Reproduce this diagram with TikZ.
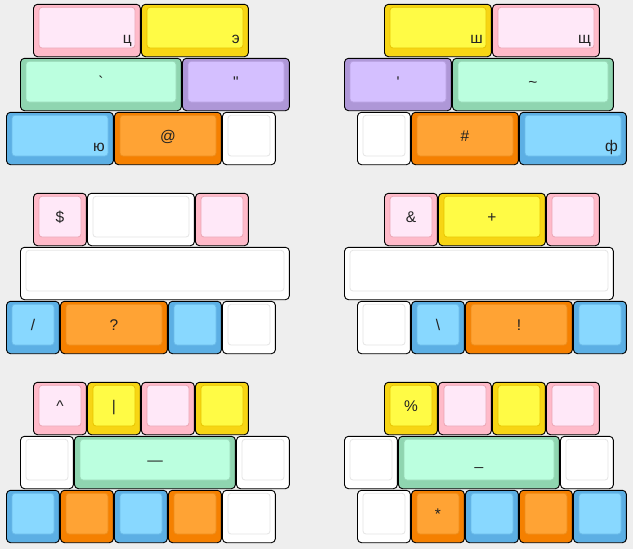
\documentclass[tikz,border=0pt]{standalone}
\usepackage{fontspec}
\newfontfamily\keyfont{Liberation Sans}
\usetikzlibrary{positioning}

% one key: name, x, y, width in units, colour, centre label, corner label
\newcommand{\keycap}[7]{%
  \draw[keyouter,fill=#5out] (#2+0.5,#3+0.3) rectangle ({#2+#4*54-0.6},#3+52.7);
  \draw[keyinner,fill=#5in,draw=#5ln] (#2+6,#3+3.3) rectangle ({#2+#4*54-6},#3+44);
  \node[keylabel] (#1) at ({#2+#4*27},#3+29.5) {#6};
  \node[keycorner] (#1c) at ({#2+#4*54-9},#3+39.5) {#7};
}

\begin{document}
\begin{tikzpicture}[x=1pt, y=-1pt,
    keyouter/.style={draw=black, line width=0.9pt, rounded corners=4pt},
    keyinner/.style={line width=0.8pt, rounded corners=3pt},
    keylabel/.style={anchor=base, inner sep=0pt, text=keytext, font=\keyfont\fontsize{15.5}{18}\selectfont},
    keycorner/.style={anchor=base east, inner sep=0pt, text=keytext, font=\keyfont\fontsize{15.5}{18}\selectfont}]
  \definecolor{bg}{HTML}{EEEEEE}
  \definecolor{keytext}{HTML}{222222}
  \definecolor{pinkout}{HTML}{FFBAC9}   \definecolor{pinkin}{HTML}{FFE8F8}   \definecolor{pinkln}{HTML}{EBA6B5}
  \definecolor{yellowout}{HTML}{F7D514} \definecolor{yellowin}{HTML}{FFFB45} \definecolor{yellowln}{HTML}{E8C400}
  \definecolor{greenout}{HTML}{8FD5B0}  \definecolor{greenin}{HTML}{BBFFDF}  \definecolor{greenln}{HTML}{9AD8B8}
  \definecolor{purpleout}{HTML}{AE97D7} \definecolor{purplein}{HTML}{D4BFFF} \definecolor{purpleln}{HTML}{B8A0E0}
  \definecolor{blueout}{HTML}{5CAFE4}   \definecolor{bluein}{HTML}{88D8FF}   \definecolor{blueln}{HTML}{6CBCEA}
  \definecolor{orangeout}{HTML}{F58000} \definecolor{orangein}{HTML}{FFA334} \definecolor{orangeln}{HTML}{EE8E1C}
  \definecolor{whiteout}{HTML}{FFFFFF}  \definecolor{whitein}{HTML}{FFFFFF}  \definecolor{whiteln}{HTML}{E5E5E5}
  \fill[bg] (0,0) rectangle (633,549);

  % top pair
  \keycap{tse}{33}{4}{2}{pink}{}{ц}
  \keycap{e}{141}{4}{2}{yellow}{}{э}
  \keycap{grave}{20}{58}{3}{green}{\char"60}{}
  \keycap{dquote}{182}{58}{2}{purple}{\char"22}{}
  \keycap{yu}{6}{112}{2}{blue}{}{ю}
  \keycap{at}{114}{112}{2}{orange}{@}{}
  \keycap{blankA}{222}{112}{1}{white}{}{}

  \keycap{sha}{384}{4}{2}{yellow}{}{ш}
  \keycap{shcha}{492}{4}{2}{pink}{}{щ}
  \keycap{squote}{344}{58}{2}{purple}{\char"27}{}
  \keycap{tilde}{452}{58}{3}{green}{\char"7E}{}
  \keycap{blankB}{357}{112}{1}{white}{}{}
  \keycap{hash}{411}{112}{2}{orange}{\#}{}
  \keycap{ef}{519}{112}{2}{blue}{}{ф}

  % middle pair
  \keycap{dollar}{33}{193}{1}{pink}{\$}{}
  \keycap{blankC}{87}{193}{2}{white}{}{}
  \keycap{pinkC}{195}{193}{1}{pink}{}{}
  \keycap{spaceL}{20}{247}{5}{white}{}{}
  \keycap{slash}{6}{301}{1}{blue}{/}{}
  \keycap{quest}{60}{301}{2}{orange}{?}{}
  \keycap{blueC}{168}{301}{1}{blue}{}{}
  \keycap{blankD}{222}{301}{1}{white}{}{}

  \keycap{amp}{384}{193}{1}{pink}{\&}{}
  \keycap{plus}{438}{193}{2}{yellow}{+}{}
  \keycap{pinkD}{546}{193}{1}{pink}{}{}
  \keycap{spaceR}{344}{247}{5}{white}{}{}
  \keycap{blankE}{357}{301}{1}{white}{}{}
  \keycap{bslash}{411}{301}{1}{blue}{\textbackslash}{}
  \keycap{excl}{465}{301}{2}{orange}{!}{}
  \keycap{blueD}{573}{301}{1}{blue}{}{}

  % bottom pair
  \keycap{caret}{33}{382}{1}{pink}{\char"5E}{}
  \keycap{bar}{87}{382}{1}{yellow}{|}{}
  \keycap{pinkE}{141}{382}{1}{pink}{}{}
  \keycap{yellowE}{195}{382}{1}{yellow}{}{}
  \keycap{blankF}{20}{436}{1}{white}{}{}
  \keycap{emdash}{74}{436}{3}{green}{—}{}
  \keycap{blankG}{236}{436}{1}{white}{}{}
  \keycap{blueE}{6}{490}{1}{blue}{}{}
  \keycap{orangeE}{60}{490}{1}{orange}{}{}
  \keycap{blueF}{114}{490}{1}{blue}{}{}
  \keycap{orangeF}{168}{490}{1}{orange}{}{}
  \keycap{blankH}{222}{490}{1}{white}{}{}

  \keycap{percent}{384}{382}{1}{yellow}{\%}{}
  \keycap{pinkF}{438}{382}{1}{pink}{}{}
  \keycap{yellowF}{492}{382}{1}{yellow}{}{}
  \keycap{pinkG}{546}{382}{1}{pink}{}{}
  \keycap{blankI}{344}{436}{1}{white}{}{}
  \keycap{under}{398}{436}{3}{green}{\_}{}
  \keycap{blankJ}{560}{436}{1}{white}{}{}
  \keycap{blankK}{357}{490}{1}{white}{}{}
  \keycap{star}{411}{490}{1}{orange}{*}{}
  \keycap{blueG}{465}{490}{1}{blue}{}{}
  \keycap{orangeG}{519}{490}{1}{orange}{}{}
  \keycap{blueH}{573}{490}{1}{blue}{}{}
\end{tikzpicture}
\end{document}
